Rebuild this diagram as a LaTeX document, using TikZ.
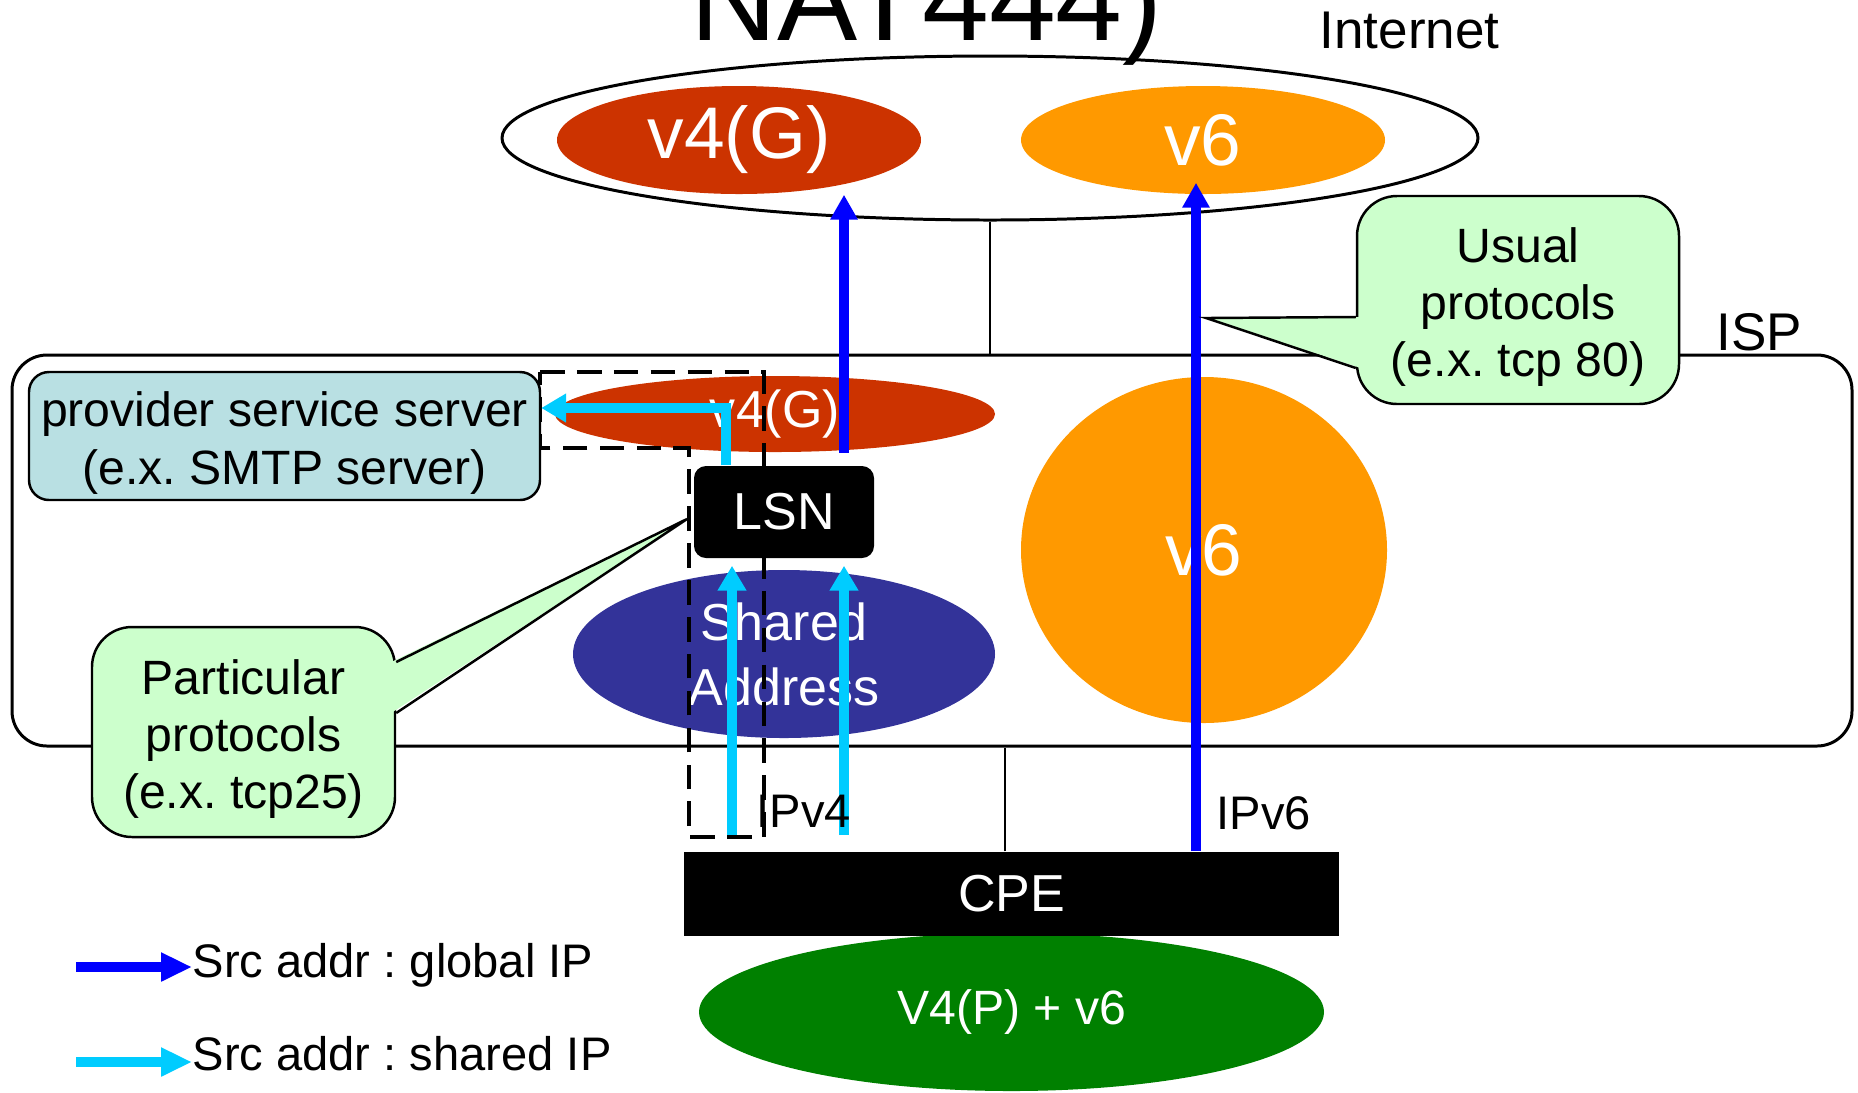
\documentclass[tikz,border=0pt]{standalone}
\usepackage{fontspec}
\setmainfont{Liberation Sans}
\usetikzlibrary{shapes.geometric,arrows.meta}
\definecolor{v4red}{HTML}{CC3300}
\definecolor{v6orange}{HTML}{FF9900}
\definecolor{sharedblue}{HTML}{333399}
\definecolor{homegreen}{HTML}{008000}
\definecolor{srvblue}{HTML}{B9E0E3}
\definecolor{notegreen}{HTML}{CCFFCC}
\definecolor{globalip}{HTML}{0000FF}
\definecolor{sharedip}{HTML}{00CCFF}
\frenchspacing
\newcommand{\lowtop}{\rule{0pt}{14pt}}

\begin{document}
\begin{tikzpicture}[x=0.1mm,y=0.1mm,
    pool/.style={ellipse,text=white},
    blackbox/.style={rectangle,fill=black,text=white,font=\fontsize{14.8}{18}\selectfont},
    note/.style={rectangle,rounded corners=4mm,draw=black,line width=0.7pt,fill=notegreen,align=center,font=\fontsize{13.7}{16.2}\selectfont},
    globalarrow/.style={draw=globalip,line width=2.6pt,-{Triangle[width=7.4pt,length=7.1pt]}},
    sharedarrow/.style={draw=sharedip,line width=2.6pt,-{Triangle[width=7.8pt,length=7.1pt]}},
    legendarrow/.style={line width=2.8pt,-{Triangle[width=7.7pt,length=8.8pt]}},
    thinline/.style={draw=black,line width=0.55pt},
    plain/.style={anchor=base west,font=\fontsize{13.4}{16}\selectfont}]
    \tikzstyle{every node}+=[inner sep=0pt]
    \useasboundingbox (0,0) rectangle (1858,-1092);
    \clip (0,0) rectangle (1858,-1092);
    % internet side
    \node[anchor=base west,font=\fontsize{34.2}{40}\selectfont] (title) at (690,-40) {NAT444)};
    \node[anchor=base west,font=\fontsize{15.1}{18}\selectfont] (inetlabel) at (1319,-48) {Internet};
    \node[ellipse,draw,line width=0.85pt,minimum width=97.6mm,minimum height=16.4mm] (inet) at (990,-138) {};
    \node[pool,fill=v4red,minimum width=36.4mm,minimum height=10.8mm,font=\fontsize{20.8}{25}\selectfont] (v4net) at (739,-140) {v4(G)};
    \node[pool,fill=v6orange,minimum width=36.4mm,minimum height=10.8mm,font=\fontsize{20.8}{25}\selectfont] (v6net) at (1203,-140) {v6};
    % ISP
    \node[draw,line width=0.85pt,rounded corners=3.5mm,minimum width=184mm,minimum height=39.1mm] (isp) at (932,-550.5) {};
    \draw[thinline] (inet.south) -- (inet.south |- isp.north);
    \node[anchor=base west,font=\fontsize{15.1}{18}\selectfont] (isplabel) at (1716,-350) {ISP};
    \node[pool,fill=v4red,minimum width=44mm,minimum height=7.6mm,font=\fontsize{14.8}{18}\selectfont] (v4isp) at (775,-414) {v4(G)};
    \node[pool,fill=v6orange,minimum width=36.6mm,minimum height=34.6mm,font=\fontsize{20.8}{25}\selectfont] (v6isp) at (1204,-550) {v6};
    \node[pool,fill=sharedblue,minimum width=42.2mm,minimum height=16.8mm,align=center,font=\fontsize{14.8}{18.5}\selectfont] (shared) at (784,-654) {Shared\\Address};
    \draw[line width=1.1pt,dash pattern=on 7pt off 3.5pt] (540,-372) -- (764,-372) -- (764,-837) -- (689,-837) -- (689,-448) -- (540,-448) -- cycle;
    \node[blackbox,rounded corners=1.2mm,minimum width=18mm,minimum height=9.2mm] (lsn) at (784,-512) {LSN};
    \node[rectangle,rounded corners=2mm,draw,line width=0.7pt,fill=srvblue,minimum width=51.1mm,minimum height=12.8mm,align=center,font=\fontsize{13.7}{16.5}\selectfont] (prov) at (284.5,-436) {\lowtop provider service server\\(e.x. SMTP server)};
    % customer side
    \node[pool,fill=homegreen,minimum width=62.5mm,minimum height=15.8mm,font=\fontsize{13.7}{16}\selectfont] (home) at (1011.5,-1012) {V4(P) + v6};
    \node[blackbox,minimum width=65.5mm,minimum height=8.4mm] (cpe) at (1011.5,-894) {CPE};
    \draw[thinline] ([xshift=-1.8pt]cpe.north) -- ([xshift=-1.8pt]cpe.north |- isp.south);
    % flows
    \coordinate (lanea) at (732,-835);
    \coordinate (laneb) at (844,-835);
    \coordinate (lanev6) at (1196,0);
    \coordinate (turn) at (726,-408);
    \draw[sharedarrow,shorten >=2pt] (lanea) -- (lanea |- lsn.south);
    \draw[sharedarrow,shorten >=2pt] (laneb) -- (laneb |- lsn.south);
    \draw[sharedarrow] (turn |- lsn.north) -- (turn) -- (turn -| prov.east);
    \draw[globalarrow] (laneb |- v4isp.south) -- (laneb |- v4net.south);
    \draw[globalarrow,shorten >=-3.4pt] (lanev6 |- cpe.north) -- (lanev6 |- v6net.south);
    \node[plain] (ipv4) at (756,-827) {IPv4};
    \node[plain] (ipv6) at (1216,-829) {IPv6};
    % callouts
    \node[note,minimum width=30.3mm,minimum height=21mm] (partic) at (243.5,-732) {\lowtop Particular\\protocols\\(e.x. tcp25)};
    \coordinate (partictip) at (687,-519);
    \fill[notegreen] ([shift={(-5,70)}]partic.east) -- (partictip) -- ([shift={(-5,19)}]partic.east) -- cycle;
    \draw[line width=0.7pt] ([shift={(0,70)}]partic.east) -- (partictip) -- ([shift={(0,19)}]partic.east);
    \node[note,minimum width=32.2mm,minimum height=20.8mm] (usual) at (1518,-300) {\lowtop Usual\\protocols\\(e.x. tcp 80)};
    \coordinate (usualtip) at (1206,-318);
    \fill[notegreen] ([shift={(5,-17)}]usual.west) -- (usualtip) -- ([shift={(5,-68)}]usual.west) -- cycle;
    \draw[line width=0.7pt] ([shift={(0,-17)}]usual.west) -- (usualtip) -- ([shift={(0,-68)}]usual.west);
    % legend
    \node[plain] (lgglobal) at (192,-977) {Src addr : global IP};
    \node[plain] (lgshared) at (192,-1070) {Src addr : shared IP};
    \coordinate (lgglobalstart) at (76,-967);
    \coordinate (lgsharedstart) at (76,-1062);
    \draw[legendarrow,draw=globalip] (lgglobalstart) -- (lgglobalstart -| lgglobal.west);
    \draw[legendarrow,draw=sharedip] (lgsharedstart) -- (lgsharedstart -| lgshared.west);
\end{tikzpicture}
\end{document}
